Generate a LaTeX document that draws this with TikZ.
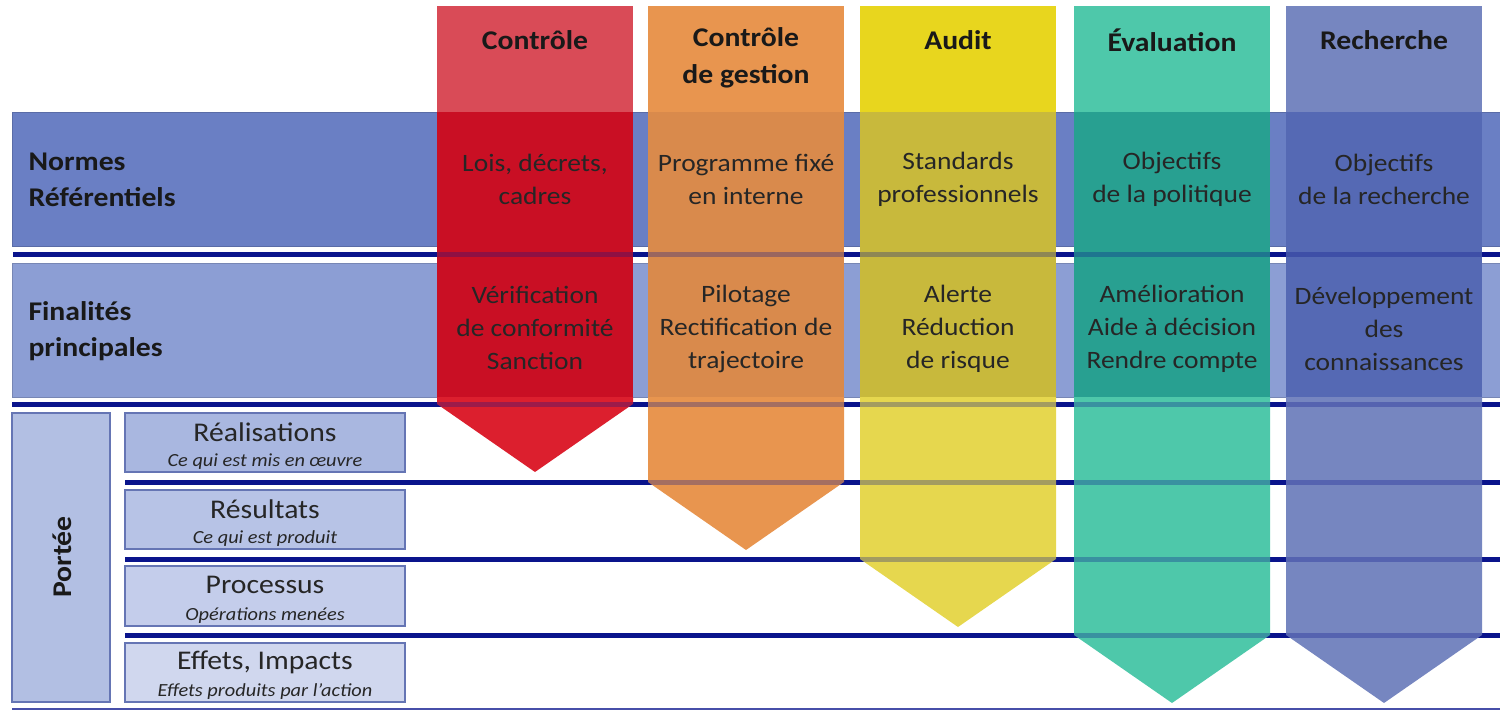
\documentclass[tikz,border=0pt]{standalone}
\usepackage{fontspec}
\setmainfont{Carlito}[FakeStretch=1.1]
\usepackage{tikz}
\usetikzlibrary{positioning}
\definecolor{bandnormes}{HTML}{6A7FC4}
\definecolor{bandfin}{HTML}{8C9ED4}
\definecolor{navyline}{HTML}{0A148C}
\definecolor{boxedge}{HTML}{6575B4}
\definecolor{porteefill}{HTML}{B2BFE3}
\definecolor{subfilla}{HTML}{A9B7E0}
\definecolor{subfillb}{HTML}{B7C3E6}
\definecolor{subfillc}{HTML}{C4CDEB}
\definecolor{subfilld}{HTML}{D0D7EE}
% column colours: head, inside the bands, lower part
\definecolor{ctrlhead}{HTML}{D94B57}
\definecolor{ctrlband}{HTML}{C90F24}
\definecolor{ctrllow}{HTML}{DC1F2E}
\definecolor{gesthead}{HTML}{E8954F}
\definecolor{gestband}{HTML}{D98A4C}
\definecolor{gestlow}{HTML}{E8954F}
\definecolor{audithead}{HTML}{E8D61E}
\definecolor{auditband}{HTML}{C8B93C}
\definecolor{auditlow}{HTML}{E6D74E}
\definecolor{evalhead}{HTML}{4EC8AA}
\definecolor{evalband}{HTML}{28A091}
\definecolor{evallow}{HTML}{4EC8AA}
\definecolor{rechhead}{HTML}{7686C0}
\definecolor{rechband}{HTML}{5569B4}
\definecolor{rechlow}{HTML}{7686C0}
% left x, bottom of body, head colour, band colour, low colour
\newcommand{\mycolumn}[5]{
	\fill[#3] (#1,6) rectangle ++(196,106);
	\fill[#4] (#1,112) rectangle ++(196,285);
	\fill[#5] (#1,397) -- ++(196,0) -- (#1+196,#2) -- (#1+98,#2+68) -- (#1,#2) -- cycle;
}

\begin{document}
\begin{tikzpicture}[x=1pt, y=-1pt]

	\tikzstyle{sepline}=[line width=5pt, navyline]
	\tikzstyle{coltitle}=[font=\fontsize{27}{37}\selectfont\bfseries, align=center, text=black!90]
	\tikzstyle{celltext}=[font=\fontsize{25}{33}\selectfont, align=center, text=black!85]
	\tikzstyle{rowlabel}=[font=\fontsize{27}{36}\selectfont\bfseries, align=left, anchor=west, text=black!90]
	\tikzstyle{subbox}=[draw=boxedge, line width=1.2pt]
	\tikzstyle{subtitle}=[font=\fontsize{27}{30}\selectfont, text=black!85]
	\tikzstyle{subnote}=[font=\fontsize{18.5}{20}\selectfont\itshape, text=black!85]

	\useasboundingbox (0,0) rectangle (1500,711);

	%% bands
	\fill[bandnormes, draw=bandnormes!85!black] (12,112) rectangle (1500,246);
	\fill[bandfin, draw=bandfin!85!black] (12,263) rectangle (1500,397);

	%% separators
	\draw[sepline] (13,255) -- (1500,255);
	\draw[sepline] (12,404) -- (1500,404);
	\draw[sepline] (125,482) -- (1500,482);
	\draw[sepline] (125,559) -- (1500,559);
	\draw[sepline] (125,635) -- (1500,635);
	\draw[line width=2pt, navyline!75!white] (12,709) -- (1500,709);

	%% columns
	\mycolumn{437}{404}{ctrlhead}{ctrlband}{ctrllow}
	\mycolumn{648}{482}{gesthead}{gestband}{gestlow}
	\mycolumn{860}{559}{audithead}{auditband}{auditlow}
	\mycolumn{1074}{635}{evalhead}{evalband}{evallow}
	\mycolumn{1286}{635}{rechhead}{rechband}{rechlow}

	%% separators seen through the columns
	\draw[sepline, draw opacity=0.3] (13,255) -- (1500,255);
	\draw[sepline, draw opacity=0.3] (12,404) -- (1500,404);
	\draw[sepline, draw opacity=0.3] (125,482) -- (1500,482);
	\draw[sepline, draw opacity=0.3] (125,559) -- (1500,559);
	\draw[sepline, draw opacity=0.3] (125,635) -- (1500,635);

	%% row labels
	\node (normes) at (25,180) [rowlabel] {Normes\\Référentiels};
	\node (finalites) at (25,331) [rowlabel] {Finalités\\principales};

	%% portee
	\fill[porteefill, draw=boxedge, line width=1.2pt] (12,413) rectangle (110,702);
	\node (portee) at (62,557) [rotate=90, font=\fontsize{27}{30}\selectfont\bfseries, text=black!90] {Portée};

	\draw[subbox, fill=subfilla] (125,413) rectangle (405,472);
	\node (realisations) at (265,432) [subtitle] {Réalisations};
	\node (realnote) at (265,462) [subnote] {Ce qui est mis en œuvre};

	\draw[subbox, fill=subfillb] (125,490) rectangle (405,549);
	\node (resultats) at (265,509) [subtitle] {Résultats};
	\node (resnote) at (265,539) [subnote] {Ce qui est produit};

	\draw[subbox, fill=subfillc] (125,566) rectangle (405,626);
	\node (processus) at (265,585) [subtitle] {Processus};
	\node (procnote) at (265,616) [subnote] {Opérations menées};

	\draw[subbox, fill=subfilld] (125,643) rectangle (405,702);
	\node (effets) at (265,662) [subtitle] {Effets, Impacts};
	\node (effnote) at (265,692) [subnote] {Effets produits par l’action};

	%% column texts
	\node (ctrltitle) at (535,40) [coltitle] {Contrôle};
	\node (ctrlnorme) at (535,179) [celltext] {Lois, décrets,\\cadres};
	\node (ctrlfin) at (535,328) [celltext] {Vérification\\de conformité\\Sanction};

	\node (gesttitle) at (746,58) [coltitle] {Contrôle\\de gestion};
	\node (gestnorme) at (746,179) [celltext] {Programme fixé\\en interne};
	\node (gestfin) at (746,329) [celltext] {Pilotage\\Rectification de\\trajectoire};

	\node (audittitle) at (958,40) [coltitle] {Audit};
	\node (auditnorme) at (958,179) [celltext] {Standards\\professionnels};
	\node (auditfin) at (958,329) [celltext] {Alerte\\Réduction\\de risque};

	\node (evaltitle) at (1172,40) [coltitle] {Évaluation};
	\node (evalnorme) at (1172,179) [celltext] {Objectifs\\de la politique};
	\node (evalfin) at (1172,329) [celltext] {Amélioration\\Aide à décision\\Rendre compte};

	\node (rechtitle) at (1384,40) [coltitle] {Recherche};
	\node (rechnorme) at (1384,179) [celltext] {Objectifs\\de la recherche};
	\node (rechfin) at (1384,329) [celltext] {Développement\\des\\connaissances};
\end{tikzpicture}
\end{document}
